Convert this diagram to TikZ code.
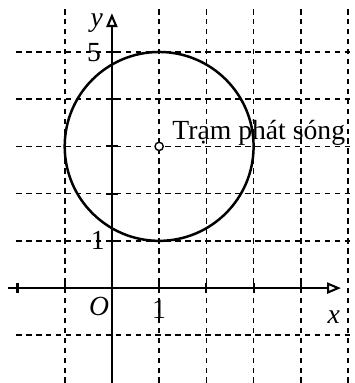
\documentclass[tikz,border=0pt]{standalone}
\usepackage{fontspec}
\setmainfont{Liberation Serif}
\usetikzlibrary{arrows.meta}
\begin{document}
\begin{tikzpicture}[x=0.6cm, y=0.6cm,
    gridline/.style={line width=0.6pt, dash pattern=on 2pt off 1.6pt},
    axis/.style={line width=0.75pt},
    lbl/.style={inner sep=0pt, font=\fontsize{10}{12}\selectfont}]
    \useasboundingbox (-2.37,-2.01) rectangle (5.13,6.1);
    % Grid
    \foreach \i in {-1,1,2,3,4,5}
        \draw[gridline] (\i,-2.01) -- (\i,5.95);
    \foreach \j in {-1,1,2,3,4,5}
        \draw[gridline] (-2.03,\j) -- (5.08,\j);
    % Axes
    \coordinate (xs) at (-2.2,0);
    \coordinate (xe) at (4.85,0);
    \coordinate (ys) at (0,-2.01);
    \coordinate (ye) at (0,5.82);
    \draw[axis, -{Triangle[open, length=5pt, width=4pt]}] (xs) -- (xe);
    \draw[axis, -{Triangle[open, length=5pt, width=4pt]}] (ys) -- (ye);
    \foreach \i in {-2,-1,1,2,3,4}
        \draw[axis] (\i,-0.1) -- (\i,0.1);
    \foreach \j in {1,...,5}
        \draw[axis] (-0.12,\j) -- (0.12,\j);
    % Labels
    \node[lbl] (x) at (4.7,-0.62) {\textit{x}};
    \node[lbl] (y) at (-0.32,5.62) {\textit{y}};
    \node[lbl] (O) at (-0.27,-0.38) {\textit{O}};
    \node[lbl] (one) at (1,-0.45) {1};
    \node[lbl] (five) at (-0.38,4.98) {5};
    \node[lbl] (unit) at (-0.3,1) {1};
    % Coverage circle
    \coordinate (c) at (1,3);
    \draw[line width=0.9pt] (c) circle[radius=2];
    \node[draw, circle, fill=white, inner sep=0pt, minimum size=3pt, line width=0.5pt] (tram) at (c) {};
    \node[lbl, anchor=base west] (name) at (1.27,3.14) {Trạm phát sóng};
\end{tikzpicture}
\end{document}
